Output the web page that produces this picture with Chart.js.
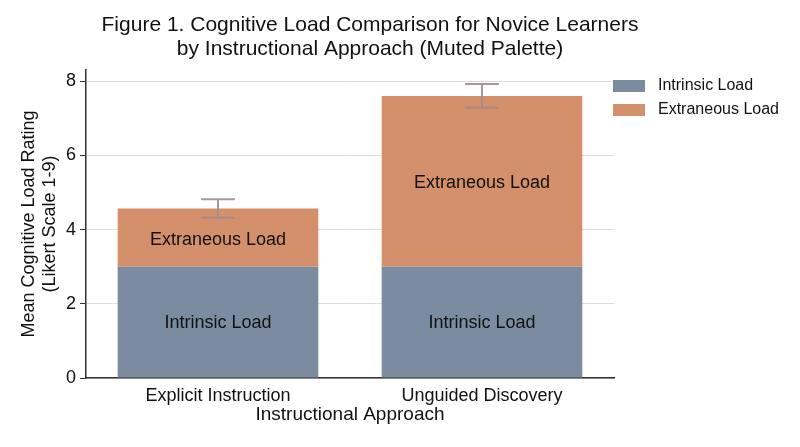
<!DOCTYPE html>
<html>
<head>
<meta charset="utf-8">
<script src="https://cdn.jsdelivr.net/npm/chart.js@4"></script>
<style>
  html, body { margin: 0; padding: 0; background: #fff; }
  #wrap { width: 800px; height: 447px; }
</style>
</head>
<body>
<div id="wrap"><canvas id="loadChart"></canvas></div>
<script>
const categories = ["Explicit Instruction", "Unguided Discovery"];
const intrinsicLoad = [3.0, 3.0];
const extraneousLoad = [1.57, 4.6];
const totalError = [0.25, 0.32];
const yTicks = [0, 2, 4, 6, 8];
const seriesNames = ["Intrinsic Load", "Extraneous Load"];
const seriesColors = ["#7b8ca1", "#d48f6b"];
const titleLines = ["Figure 1. Cognitive Load Comparison for Novice Learners",
                    "by Instructional Approach (Muted Palette)"];

const FONT = "'Liberation Sans', Arial, sans-serif";

// title, legend, error bars, segment labels
const overlayPlugin = {
  id: "overlay",
  afterDraw(chart) {
    const ctx = chart.ctx;
    const x = chart.scales.x, y = chart.scales.y;
    ctx.save();

    ctx.fillStyle = "#111";
    ctx.textAlign = "center";
    ctx.textBaseline = "middle";
    ctx.font = "21px " + FONT;
    titleLines.forEach((t, i) => ctx.fillText(t, 370, 25 + i * 24));

    // legend
    ctx.textAlign = "left";
    ctx.font = "16px " + FONT;
    seriesNames.forEach((n, i) => {
      const ly = 86 + i * 24;
      ctx.fillStyle = seriesColors[i];
      ctx.fillRect(613, ly - 6, 32, 12);
      ctx.fillStyle = "#111";
      ctx.fillText(n, 658, ly);
    });

    categories.forEach((c, i) => {
      const cx = x.getPixelForValue(i);
      const bottom = intrinsicLoad[i];
      const top = intrinsicLoad[i] + extraneousLoad[i];

      ctx.fillStyle = "#111";
      ctx.font = "18px " + FONT;
      ctx.textAlign = "center";
      ctx.fillText("Intrinsic Load", cx, y.getPixelForValue(bottom / 2) + 1);
      ctx.fillText("Extraneous Load", cx, y.getPixelForValue(bottom + extraneousLoad[i] / 2) + 2);

      const yHi = y.getPixelForValue(top + totalError[i]);
      const yLo = y.getPixelForValue(top - totalError[i]);
      ctx.strokeStyle = "rgba(160,140,142,0.9)";
      ctx.lineWidth = 2;
      ctx.beginPath();
      ctx.moveTo(cx, yHi); ctx.lineTo(cx, yLo);
      ctx.moveTo(cx - 17, yHi); ctx.lineTo(cx + 17, yHi);
      ctx.moveTo(cx - 17, yLo); ctx.lineTo(cx + 17, yLo);
      ctx.stroke();
    });
    ctx.restore();
  }
};

new Chart(document.getElementById("loadChart").getContext("2d"), {
  type: "bar",
  data: {
    labels: categories,
    datasets: [
      { label: seriesNames[0], data: intrinsicLoad, backgroundColor: seriesColors[0] },
      { label: seriesNames[1], data: extraneousLoad, backgroundColor: seriesColors[1] }
    ]
  },
  options: {
    responsive: true,
    maintainAspectRatio: false,
    animation: false,
    layout: { padding: { left: 8, right: 186, top: 70, bottom: 0 } },
    datasets: { bar: { categoryPercentage: 0.76, barPercentage: 1.0 } },
    plugins: {
      title: { display: false },
      legend: { display: false },
      tooltip: { enabled: false }
    },
    scales: {
      x: {
        stacked: true,
        afterFit(axis) { axis.height = 69; },
        grid: { display: false, drawTicks: true, tickLength: 6, color: "#333" },
        border: { display: true, color: "#333", width: 1.5 },
        ticks: { color: "#111", font: { family: FONT, size: 18 }, padding: 1 },
        title: {
          display: true,
          text: "Instructional Approach",
          color: "#111",
          font: { family: FONT, size: 19 },
          padding: { top: 0, bottom: 21 }
        }
      },
      y: {
        stacked: true,
        min: 0,
        max: 8.3,
        afterFit(axis) { axis.width = 78; },
        afterBuildTicks(axis) { axis.ticks = yTicks.map(v => ({ value: v })); },
        grid: { color: "#dcdcdc", lineWidth: 1, tickLength: 6, tickColor: "#333" },
        border: { display: true, color: "#333", width: 1.5 },
        ticks: { color: "#111", font: { family: FONT, size: 18 }, padding: 4 },
        title: {
          display: true,
          text: ["Mean Cognitive Load Rating", "(Likert Scale 1-9)"],
          color: "#111",
          font: { family: FONT, size: 18 },
          lineHeight: 1.2,
          padding: { top: 10, bottom: 6 }
        }
      }
    }
  },
  plugins: [overlayPlugin]
});
</script>
</body>
</html>
